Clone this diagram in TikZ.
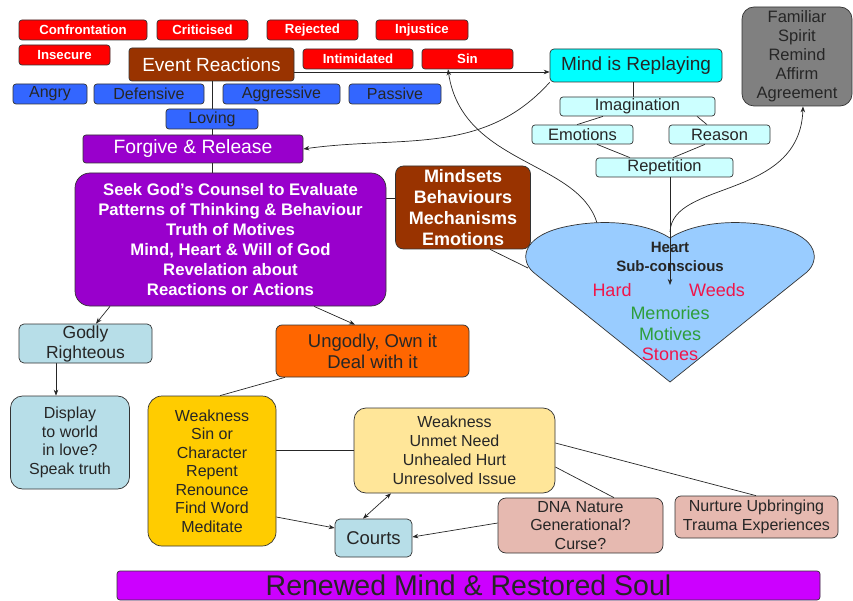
\documentclass[tikz,border=0pt]{standalone}
\usepackage{fontspec}
\setmainfont{Liberation Sans}
\usetikzlibrary{arrows.meta,backgrounds}
\definecolor{cred}{HTML}{FF0000}
\definecolor{cbrown}{HTML}{993300}
\definecolor{cblue}{HTML}{3366FF}
\definecolor{cpurple}{HTML}{9900CC}
\definecolor{ccyan}{HTML}{00FFFF}
\definecolor{clcyan}{HTML}{CCFFFF}
\definecolor{cgray}{HTML}{808080}
\definecolor{cheart}{HTML}{99CCFF}
\definecolor{cteal}{HTML}{B7DEE8}
\definecolor{corange}{HTML}{FF6600}
\definecolor{cyellow}{HTML}{FFCC00}
\definecolor{clyellow}{HTML}{FFE699}
\definecolor{cpink}{HTML}{E6B9B0}
\definecolor{cmagenta}{HTML}{CC00FF}
\definecolor{hred}{HTML}{F0154A}
\definecolor{hgreen}{HTML}{2E9E3A}
\definecolor{edge}{HTML}{333333}
\tikzset{
  box/.style={draw=edge, line width=0.7pt, rounded corners=3pt, inner sep=0pt, align=center},
  redbox/.style={box, fill=cred, text=white, font=\fontsize{13.2}{15}\selectfont\bfseries, minimum height=20},
  bluebox/.style={box, fill=cblue, text=black!85, font=\fontsize{16}{18}\selectfont, minimum height=20},
  cybox/.style={box, fill=clcyan, text=black!85, font=\fontsize{16.5}{18}\selectfont, minimum height=19},
  txt16/.style={font=\fontsize{16}{18.5}\selectfont, text=black!85},
  conn/.style={draw=black!85, line width=0.7pt},
  arr/.style={conn, -{Stealth[length=6pt,width=4.5pt]}},
  darr/.style={conn, {Stealth[length=6pt,width=4.5pt]}-{Stealth[length=6pt,width=4.5pt]}},
}
\begin{document}
\begin{tikzpicture}[x=1pt,y=-1pt]
\useasboundingbox (0,0) rectangle (853,601);
% red labels
\node[redbox, minimum width=128] (conf) at (83,30) {Confrontation};
\node[redbox, minimum width=91] (crit) at (202.5,30) {Criticised};
\node[redbox, minimum width=91] (rej) at (312.5,30) {Rejected};
\node[redbox, minimum width=92] (inj) at (422,30) {Injustice};
\node[redbox, minimum width=91] (insec) at (64.5,55) {Insecure};
\node[redbox, minimum width=110] (intim) at (358,59) {Intimidated};
\node[redbox, minimum width=91] (sin) at (467.5,59) {Sin};
% event reactions
\node[box, fill=cbrown, text=white, font=\fontsize{19}{21}\selectfont, minimum width=165, minimum height=33] (er) at (211.5,64.5) {Event Reactions};
% blue
\node[bluebox, minimum width=74] (angry) at (50,94) {Angry};
\node[bluebox, minimum width=110] (def) at (149,94) {Defensive};
\node[bluebox, minimum width=117] (agg) at (281.5,94) {Aggressive};
\node[bluebox, minimum width=92] (pas) at (395,94) {Passive};
\node[bluebox, minimum width=92] (lov) at (212,119) {Loving};
% forgive
\node[box, fill=cpurple, text=white, font=\fontsize{19.3}{21}\selectfont, minimum width=220, minimum height=28] (fr) at (193,149) {Forgive \& Release};
% seek
\node[box, rounded corners=15pt, fill=cpurple, text=white, font=\fontsize{16.7}{20}\selectfont\bfseries, minimum width=311, minimum height=133] (seek) at (230.5,239.5) {Seek God’s Counsel to Evaluate\\Patterns of Thinking \& Behaviour\\Truth of Motives\\Mind, Heart \& Will of God\\Revelation about\\Reactions or Actions};
% mindsets
\node[box, rounded corners=8pt, fill=cbrown, text=white, font=\fontsize{18}{21}\selectfont\bfseries, minimum width=135, minimum height=83] (mind) at (463,207.5) {Mindsets\\Behaviours\\Mechanisms\\Emotions};
% godly / ungodly
\node[box, rounded corners=5pt, fill=cteal, text=black!85, font=\fontsize{17.5}{20}\selectfont, minimum width=133, minimum height=39] (godly) at (85.5,343.5) {Godly\\Righteous};
\node[box, rounded corners=6pt, fill=corange, text=black!85, font=\fontsize{18.5}{21}\selectfont, minimum width=193, minimum height=52] (ungod) at (372.5,351) {Ungodly, Own it\\Deal with it};
% bottom
\node[box, rounded corners=12pt, fill=cteal, txt16, minimum width=119, minimum height=93] (disp) at (70,442.5) {Display\\to world\\in love?\\Speak truth};
\node[box, rounded corners=14pt, fill=cyellow, txt16, minimum width=128, minimum height=150] (weak) at (212,471) {Weakness\\Sin or\\Character\\Repent\\Renounce\\Find Word\\Meditate};
\node[box, rounded corners=12pt, fill=clyellow, font=\fontsize{16}{19}\selectfont, text=black!85, minimum width=201, minimum height=85] (unmet) at (454.5,450.5) {Weakness\\Unmet Need\\Unhealed Hurt\\Unresolved Issue};
\node[box, rounded corners=5pt, fill=cteal, text=black!85, font=\fontsize{18.5}{20}\selectfont, minimum width=77, minimum height=38] (courts) at (373.5,538) {Courts};
\node[box, rounded corners=8pt, fill=cpink, txt16, minimum width=165, minimum height=55] (dna) at (580.5,525.5) {DNA Nature\\Generational?\\Curse?};
\node[box, rounded corners=6pt, fill=cpink, txt16, minimum width=163, minimum height=42] (nurt) at (756.5,517) {Nurture Upbringing\\Trauma Experiences};
\node[box, fill=cmagenta, text=black!85, font=\fontsize{28.5}{30}\selectfont, minimum width=703, minimum height=29] (renew) at (468.5,585.5) {Renewed Mind \& Restored Soul};
% right top
\node[box, rounded corners=4pt, fill=ccyan, text=black!85, font=\fontsize{19}{21}\selectfont, minimum width=172, minimum height=33] (mr) at (636,65.5) {Mind is Replaying};
\node[cybox, minimum width=155] (imag) at (637.5,106.5) {Imagination};
\node[cybox, minimum width=101] (emo) at (582.5,134.5) {Emotions};
\node[cybox, minimum width=101] (reas) at (719.5,134.5) {Reason};
\node[cybox, minimum width=137] (rep) at (664.5,167.5) {Repetition};
\node[box, rounded corners=12pt, fill=cgray, text=black!85, font=\fontsize{16.5}{19}\selectfont, minimum width=110, minimum height=99] (fam) at (797,56.5) {Familiar\\Spirit\\Remind\\Affirm\\Agreement};
% heart
\draw[draw=edge, line width=0.7pt, fill=cheart] (670,382) -- (533,272) .. controls (520,260) and (522,238) .. (560,228) .. controls (600,218) and (645,222) .. (670,238) .. controls (695,222) and (740,218) .. (780,228) .. controls (818,238) and (820,260) .. (807,272) -- cycle;
\coordinate (hl) at (597,223);
\coordinate (hc) at (670,232);
\coordinate (hin) at (670,285);
\coordinate (hml) at (528,268);
\draw[arr] (rep.south -| hin) -- (hin);
\node[font=\fontsize{15}{17}\selectfont\bfseries, text=black!85] (hh) at (670,247) {Heart};
\node[font=\fontsize{15}{17}\selectfont\bfseries, text=black!85] (hs) at (670,266) {Sub-conscious};
\node[font=\fontsize{18}{20}\selectfont, text=hred] (hard) at (612,290) {Hard};
\node[font=\fontsize{18}{20}\selectfont, text=hred] (weeds) at (717,290) {Weeds};
\node[font=\fontsize{18}{20}\selectfont, text=hgreen] (mem) at (670,313) {Memories};
\node[font=\fontsize{18}{20}\selectfont, text=hgreen] (mot) at (670,334) {Motives};
\node[font=\fontsize{18}{20}\selectfont, text=hred] (stones) at (670,354) {Stones};
% connectors
\begin{scope}[on background layer]
\draw[conn] (er.south -| 212,0) -- (seek.north -| 212,0);
\draw[arr] (er.east |- 0,72) -- (mr.west |- 0,72);
\draw[arr] (mr.south west) to[out=228, in=8] (fr.east);
\draw[arr] (hl) .. controls (578,160) and (462,165) .. (sin.south -| 448,0);
\draw[arr] (hc) .. controls (672,180) and (800,200) .. (fam.south -| 803,0);
\draw[conn] (mr.south -| 633,0) -- (imag.north -| 633,0);
\draw[conn] (imag.south -| 603,0) -- (emo.north -| 577,0);
\draw[conn] (imag.south -| 697,0) -- (reas.north -| 707,0);
\draw[conn] (emo.south -| 597,0) -- (rep.north -| 630,0);
\draw[conn] (reas.south -| 705,0) -- (rep.north -| 673,0);
\draw[conn] (seek.east |- 0,198) -- (mind.west |- 0,198);
\draw[conn] (mind.south -| 490,0) -- (hml);
\draw[arr] (seek.south -| 110,0) -- (godly.north -| 96,0);
\draw[arr] (seek.south -| 314,0) -- (ungod.north -| 355,0);
\draw[conn] (ungod.south -| 285,0) -- (weak.north -| 220,0);
\draw[arr] (godly.south -| 56,0) -- (disp.north -| 56,0);
\draw[conn] (weak.east |- 0,450) -- (unmet.west |- 0,450);
\draw[arr] (weak.east |- 0,517) -- (courts.west |- 0,528);
\draw[darr] (courts.north -| 363,0) -- (unmet.south -| 391,0);
\draw[arr] (dna.west |- 0,523) -- (courts.east |- 0,537);
\draw[conn] (unmet.east |- 0,467) -- (dna.north -| 614,0);
\draw[conn] (unmet.east |- 0,443) -- (nurt.north -| 756,0);
\end{scope}
\end{tikzpicture}
\end{document}
